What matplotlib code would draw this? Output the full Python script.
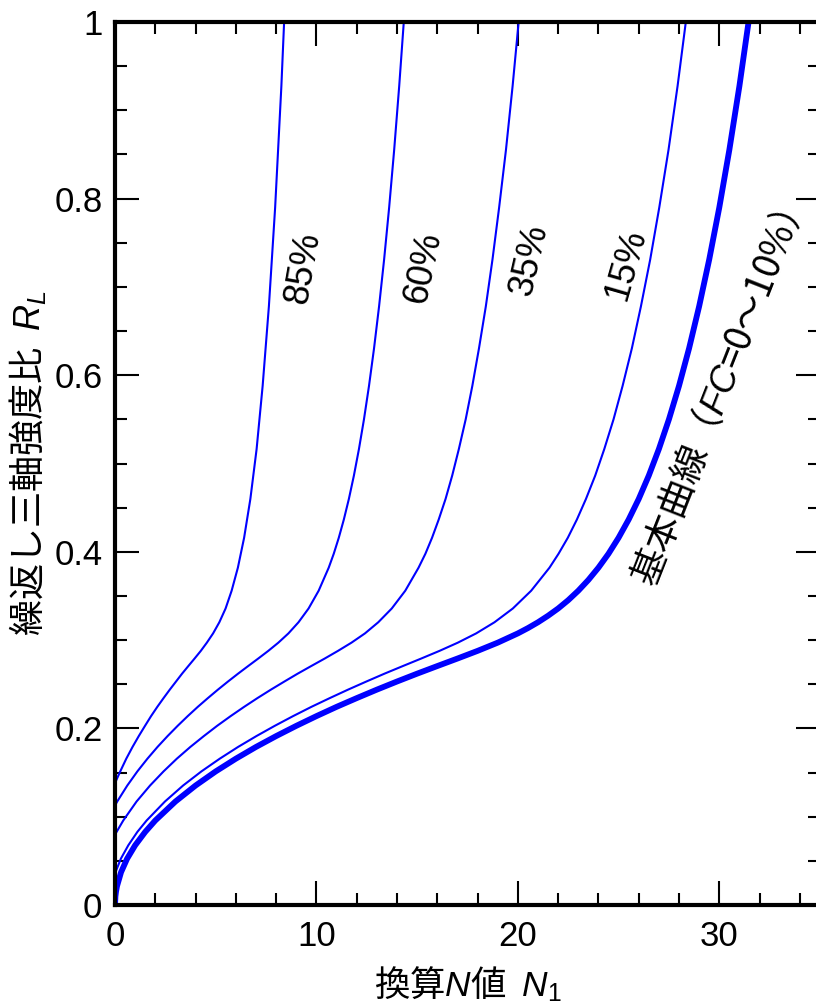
import matplotlib
matplotlib.use("Agg")
import matplotlib.pyplot as plt
from matplotlib.ticker import MultipleLocator, FixedLocator, FixedFormatter

plt.rcParams['font.family'] = ['Liberation Sans', 'Noto Sans CJK JP', 'DejaVu Sans']
plt.rcParams['mathtext.fontset'] = 'custom'
plt.rcParams['mathtext.rm'] = 'Liberation Sans'
plt.rcParams['mathtext.it'] = 'Liberation Sans:italic'
plt.rcParams['mathtext.bf'] = 'Liberation Sans:bold'

# ---- cyclic triaxial strength ratio R_L vs. corrected N-value N1 ----
# basic curve (FC = 0-10 %)
n1_base = [0, 0.02, 0.05, 0.1, 0.3, 0.6, 1, 1.5, 2, 3, 4, 5, 6, 7, 8, 9, 10, 11, 12,
           13, 14, 15, 16, 17, 18, 19, 20, 20.5, 21, 21.5, 22, 22.5, 23, 23.5, 24,
           24.5, 25, 25.5, 26, 26.5, 27, 27.5, 28, 28.5, 29, 29.5, 30, 30.5, 31, 31.5]
rl_base = [0, 0.0096, 0.0151, 0.0214, 0.0371, 0.0524, 0.0676, 0.0828, 0.0957, 0.1172,
           0.1353, 0.1513, 0.1657, 0.1790, 0.1913, 0.2029, 0.2139, 0.2244, 0.2343,
           0.2439, 0.2531, 0.2620, 0.2706, 0.2791, 0.2878, 0.2971, 0.3076, 0.3136,
           0.3202, 0.3276, 0.3358, 0.3452, 0.3559, 0.3681, 0.3820, 0.3978, 0.4159,
           0.4365, 0.4598, 0.4863, 0.5163, 0.5500, 0.5879, 0.6304, 0.6780, 0.7310,
           0.7899, 0.8553, 0.9276, 1.0074]

# FC = 15 %
n1_fc15 = [0, 0.29, 0.66, 1.11, 1.57, 2.48, 3.38, 4.29, 5.20, 6.11, 7.02, 7.93, 8.84,
           9.75, 10.66, 11.57, 12.48, 13.38, 14.29, 15.20, 16.11, 17.02, 17.93, 18.84,
           19.75, 20.66, 21.57, 22.02, 22.48, 22.93, 23.38, 23.84, 24.29, 24.75, 25.20,
           25.66, 26.11, 26.57, 27.02, 27.48, 27.93, 28.38]
rl_fc15 = [0.0357, 0.0524, 0.0676, 0.0828, 0.0957, 0.1172, 0.1353, 0.1513, 0.1657,
           0.1790, 0.1913, 0.2029, 0.2139, 0.2244, 0.2343, 0.2439, 0.2531, 0.2620,
           0.2706, 0.2791, 0.2878, 0.2971, 0.3076, 0.3202, 0.3358, 0.3559, 0.3820,
           0.3978, 0.4159, 0.4365, 0.4598, 0.4863, 0.5163, 0.5500, 0.5879, 0.6304,
           0.6780, 0.7310, 0.7899, 0.8553, 0.9276, 1.0074]

# FC = 35 %
n1_fc35 = [0, 0.41, 1.07, 1.74, 2.41, 3.07, 3.74, 4.41, 5.07, 5.74, 6.41, 7.07, 7.74,
           8.41, 9.07, 9.74, 10.41, 11.07, 11.74, 12.41, 13.07, 13.74, 14.41, 15.07,
           15.41, 15.74, 16.07, 16.41, 16.74, 17.07, 17.41, 17.74, 18.07, 18.41, 18.74,
           19.07, 19.41, 19.74, 20.07]
rl_fc35 = [0.0797, 0.0957, 0.1172, 0.1353, 0.1513, 0.1657, 0.1790, 0.1913, 0.2029,
           0.2139, 0.2244, 0.2343, 0.2439, 0.2531, 0.2620, 0.2706, 0.2791, 0.2878,
           0.2971, 0.3076, 0.3202, 0.3358, 0.3559, 0.3820, 0.3978, 0.4159, 0.4365,
           0.4598, 0.4863, 0.5163, 0.5500, 0.5879, 0.6304, 0.6780, 0.7310, 0.7899,
           0.8553, 0.9276, 1.0074]

# FC = 60 %
n1_fc60 = [0, 0.11, 0.61, 1.11, 1.61, 2.11, 2.61, 3.11, 3.61, 4.11, 4.61, 5.11, 5.61,
           6.11, 6.61, 7.11, 7.61, 8.11, 8.61, 9.11, 9.61, 10.11, 10.61, 10.86, 11.11,
           11.36, 11.61, 11.86, 12.11, 12.36, 12.61, 12.86, 13.11, 13.36, 13.61, 13.86,
           14.11, 14.36]
rl_fc60 = [0.1127, 0.1172, 0.1353, 0.1513, 0.1657, 0.1790, 0.1913, 0.2029, 0.2139,
           0.2244, 0.2343, 0.2439, 0.2531, 0.2620, 0.2706, 0.2791, 0.2878, 0.2971,
           0.3076, 0.3202, 0.3358, 0.3559, 0.3820, 0.3978, 0.4159, 0.4365, 0.4598,
           0.4863, 0.5163, 0.5500, 0.5879, 0.6304, 0.6780, 0.7310, 0.7899, 0.8553,
           0.9276, 1.0074]

# FC = 85 %
n1_fc85 = [0, 0.26, 0.56, 0.87, 1.18, 1.49, 1.79, 2.10, 2.41, 2.72, 3.03, 3.33, 3.64,
           3.95, 4.26, 4.56, 4.87, 5.18, 5.49, 5.79, 6.10, 6.41, 6.72, 7.03, 7.33,
           7.64, 7.95, 8.26, 8.41]
rl_fc85 = [0.1381, 0.1513, 0.1657, 0.1790, 0.1913, 0.2029, 0.2139, 0.2244, 0.2343,
           0.2439, 0.2531, 0.2620, 0.2706, 0.2791, 0.2878, 0.2971, 0.3076, 0.3202,
           0.3358, 0.3559, 0.3820, 0.4159, 0.4598, 0.5163, 0.5879, 0.6780, 0.7899,
           0.9276, 1.0074]

fc_labels = ['85%', '60%', '35%', '15%']
fc_label_pos = [(9.35, 0.722), (15.3, 0.722), (20.6, 0.731), (25.35, 0.725)]
fc_label_rot = [80, 78, 77, 74]

x_ticks = [0, 10, 20, 30]
x_ticklabels = ['0', '10', '20', '30']
y_ticks = [0, 0.2, 0.4, 0.6, 0.8, 1.0]
y_ticklabels = ['0', '0.2', '0.4', '0.6', '0.8', '1']

BLUE = '#0000ff'

fig = plt.figure(figsize=(8.16, 10.08), dpi=100)
ax = fig.add_axes([115 / 816, 103 / 1008, 705 / 816, 883 / 1008])

for xs, ys in [(n1_fc85, rl_fc85), (n1_fc60, rl_fc60), (n1_fc35, rl_fc35),
               (n1_fc15, rl_fc15)]:
    ax.plot(xs, ys, color=BLUE, lw=1.5, solid_joinstyle='round')
ax.plot(n1_base, rl_base, color=BLUE, lw=4.2, solid_joinstyle='round')

ax.set_xlim(0, 35)
ax.set_ylim(0, 1)

ax.xaxis.set_major_locator(FixedLocator(x_ticks))
ax.xaxis.set_major_formatter(FixedFormatter(x_ticklabels))
ax.xaxis.set_minor_locator(MultipleLocator(2))
ax.yaxis.set_major_locator(FixedLocator(y_ticks))
ax.yaxis.set_major_formatter(FixedFormatter(y_ticklabels))
ax.yaxis.set_minor_locator(MultipleLocator(0.05))

ax.tick_params(which='both', direction='in', top=True, right=True, width=1.5,
               labelsize=25)
ax.tick_params(axis='x', pad=11)
ax.tick_params(axis='y', pad=9)
ax.tick_params(which='major', length=17)
ax.tick_params(which='minor', length=8.5)
for sp in ax.spines.values():
    sp.set_linewidth(3)

ax.set_xlabel('換算$N$値  $N_1$', fontsize=25.5, family=['Noto Sans CJK JP'])
ax.xaxis.set_label_coords(0.5, -0.067)
ax.set_ylabel('繰返し三軸強度比  $R_L$', fontsize=26, family=['Noto Sans CJK JP'])
ax.yaxis.set_label_coords(-0.095, 0.5)

for lab, (tx, ty), rot in zip(fc_labels, fc_label_pos, fc_label_rot):
    ax.text(tx, ty, lab, fontsize=26, rotation=rot, rotation_mode='anchor',
            ha='center', va='center', family=['Liberation Sans'])

ax.text(29.95, 0.572, '基本曲線（$\\mathit{FC}$=0～10%）', fontsize=26.5, rotation=68.5,
        rotation_mode='anchor', ha='center', va='center',
        family=['Noto Sans CJK JP'])

fig.savefig('out.png', dpi=100)
